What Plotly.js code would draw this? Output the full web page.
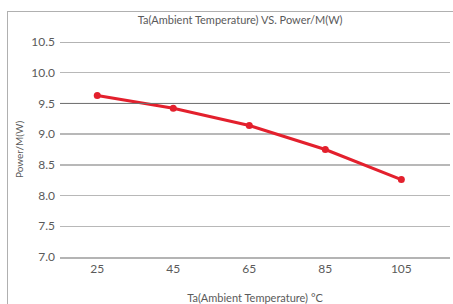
<!DOCTYPE html>
<html><head><meta charset="utf-8">
<script src="https://cdn.plot.ly/plotly-3.0.1.min.js"></script>
<style>
html,body{margin:0;padding:0;background:#fff;overflow:hidden;}
#frame{position:absolute;left:7px;top:11px;width:460px;height:310px;border-left:1.5px solid #b0b0b0;border-top:1.5px solid #b0b0b0;}
#chart{position:absolute;left:0;top:0;width:453px;height:304px;}
</style>
</head><body>
<div id="frame"></div>
<div id="chart"></div>
<script>
var temperatures = ['25', '45', '65', '85', '105'];
var powerValues = [9.63, 9.42, 9.14, 8.75, 8.26];
var yTicks = [7.0, 7.5, 8.0, 8.5, 9.0, 9.5, 10.0, 10.5];
var yTickText = ['7.0', '7.5', '8.0', '8.5', '9.0', '9.5', '10.0', '10.5'];

var trace = {
  x: temperatures,
  y: powerValues,
  type: 'scatter',
  mode: 'lines+markers',
  line: {color: '#e3202d', width: 3},
  marker: {color: '#e3202d', size: 7},
  hoverinfo: 'none'
};

var layout = {
  width: 453, height: 304,
  margin: {l: 60, r: 3, t: 42, b: 47},
  paper_bgcolor: 'rgba(0,0,0,0)',
  plot_bgcolor: 'rgba(0,0,0,0)',
  font: {family: 'Lato, "Open Sans", sans-serif', color: '#5a5a5a', size: 12},
  showlegend: false,
  title: {text: 'Ta(Ambient Temperature) VS. Power/M(W)', x: 0.53, xanchor: 'center', y: 0.935, yanchor: 'middle',
          font: {size: 11, color: '#5a5a5a'}},
  xaxis: {
    type: 'category',
    range: [-0.49, 4.64],
    showgrid: false, zeroline: false,
    showline: true, linecolor: '#b4b4b4', linewidth: 1.5,
    ticks: '', tickfont: {size: 12, color: '#5a5a5a'},
    title: {text: 'Ta(Ambient Temperature) °C', font: {size: 11, color: '#5a5a5a'}, standoff: 20}
  },
  yaxis: {
    range: [7.0, 10.5],
    tickvals: yTicks, ticktext: yTickText,
    showgrid: true, gridcolor: '#b8b8b8', gridwidth: 1.5,
    zeroline: false, showline: false,
    ticks: '', ticklabelstandoff: 4, tickfont: {size: 12, color: '#5a5a5a'},
    title: {text: 'Power/M(W)', font: {size: 10, color: '#5a5a5a'}, standoff: 5}
  },
  shapes: [
    {type: 'line', xref: 'paper', x0: 0, x1: 1, yref: 'y', y0: 9.5, y1: 9.5,
     line: {color: '#707070', width: 1}},
    {type: 'line', xref: 'paper', x0: 0, x1: 1, yref: 'y', y0: 10.5, y1: 10.5,
     line: {color: '#9a9a9a', width: 1.5}}
  ]
};

Plotly.newPlot('chart', [trace], layout, {displayModeBar: false, staticPlot: true});
</script>
</body></html>
